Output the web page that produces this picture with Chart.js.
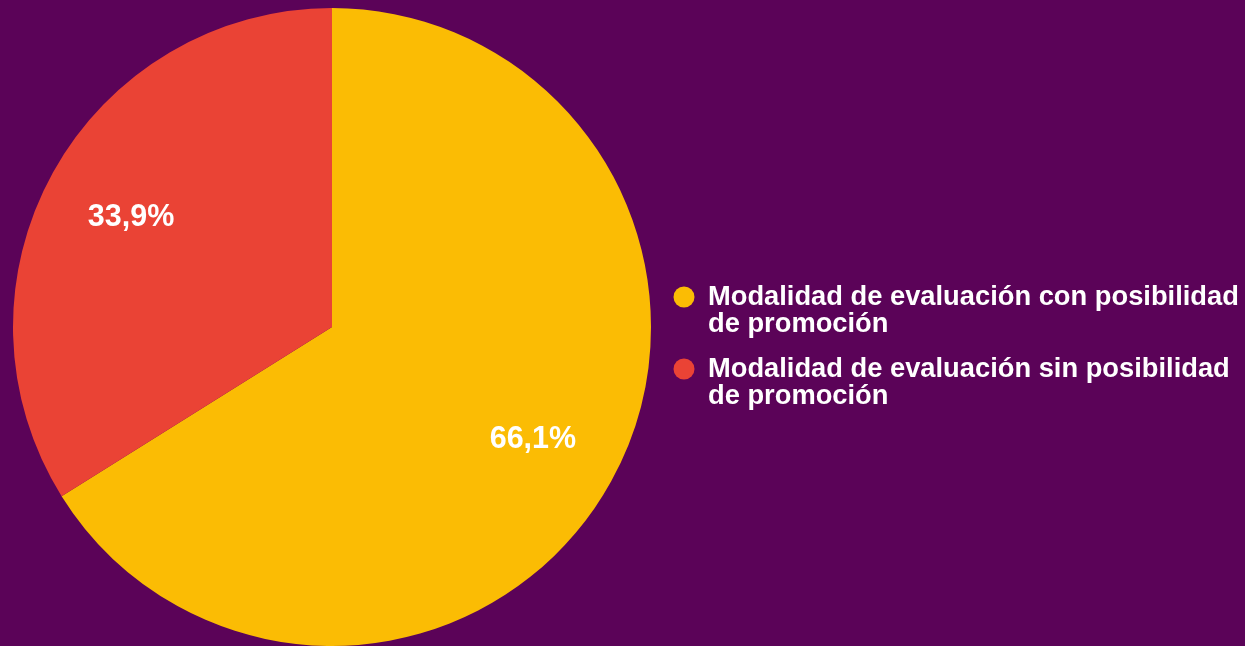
<!DOCTYPE html>
<html>
<head>
<meta charset="utf-8">
<script src="https://cdn.jsdelivr.net/npm/chart.js@4.4.0/dist/chart.umd.min.js"></script>
<style>
  html, body { margin: 0; padding: 0; background: #5b0358; }
  #grafico { display: block; }
</style>
</head>
<body>
<canvas id="grafico" width="1245" height="646"></canvas>
<script>
const categorias = [
  ["Modalidad de evaluación con posibilidad", "de promoción"],
  ["Modalidad de evaluación sin posibilidad", "de promoción"],
];
const porcentajes = [66.1, 33.9];
const colores = ["#fbbc04", "#ea4335"];

// etiquetas de porcentaje dentro de cada porción
const etiquetasPorcion = {
  id: "etiquetasPorcion",
  afterDatasetsDraw(chart) {
    const ctx = chart.ctx;
    const meta = chart.getDatasetMeta(0);
    ctx.save();
    ctx.font = "bold 30.5px 'Liberation Sans', Arial, sans-serif";
    ctx.fillStyle = "#ffffff";
    ctx.textAlign = "center";
    ctx.textBaseline = "middle";
    meta.data.forEach((arco, i) => {
      const p = arco.getProps(["x", "y", "startAngle", "endAngle", "outerRadius"], true);
      const medio = (p.startAngle + p.endAngle) / 2;
      const r = p.outerRadius * 0.72;
      const texto = porcentajes[i].toFixed(1).replace(".", ",") + "%";
      ctx.fillText(texto, p.x + Math.cos(medio) * r, p.y + Math.sin(medio) * r + 1.5);
    });
    ctx.restore();
  },
};

// leyenda a la derecha con texto en dos líneas
const leyenda = {
  id: "leyenda",
  afterDraw(chart) {
    const ctx = chart.ctx;
    ctx.save();
    ctx.font = "bold 27.3px 'Liberation Sans', Arial, sans-serif";
    ctx.textAlign = "left";
    ctx.textBaseline = "alphabetic";
    chart.data.labels.forEach((lineas, i) => {
      const base = 305 + i * 72;
      ctx.fillStyle = colores[i];
      ctx.beginPath();
      ctx.arc(684, base - 8, 10.5, 0, Math.PI * 2);
      ctx.fill();
      ctx.fillStyle = "#ffffff";
      lineas.forEach((linea, j) => ctx.fillText(linea, 708, base + j * 27));
    });
    ctx.restore();
  },
};

new Chart(document.getElementById("grafico").getContext("2d"), {
  type: "pie",
  data: {
    labels: categorias,
    datasets: [
      {
        data: porcentajes,
        backgroundColor: colores,
        borderWidth: 0,
      },
    ],
  },
  options: {
    responsive: false,
    animation: false,
    layout: { padding: { top: 8, left: 12, right: 593, bottom: 0 } },
    plugins: {
      legend: { display: false },
      tooltip: { enabled: false },
    },
  },
  plugins: [etiquetasPorcion, leyenda],
});
</script>
</body>
</html>
